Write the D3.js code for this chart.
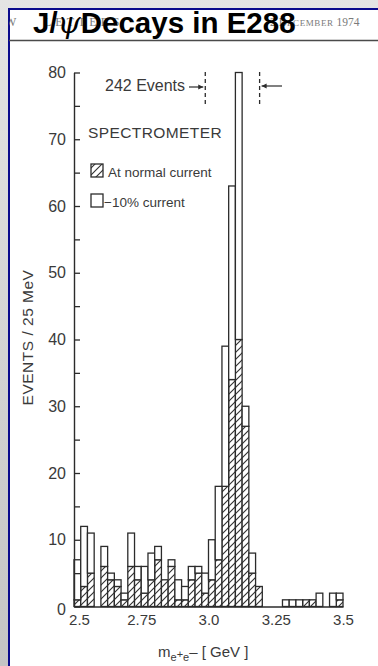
<!DOCTYPE html>
<html>
<head>
<meta charset="utf-8">
<script src="https://cdn.jsdelivr.net/npm/d3@7"></script>
<style>
  html, body { margin: 0; padding: 0; background: #fff; }
  svg { display: block; }
</style>
</head>
<body>
<svg id="chart" width="378" height="666"></svg>
<script>
// Lower edge of each 25 MeV mass bin (GeV)
const binStarts = [
  2.500, 2.525, 2.550, 2.575, 2.600, 2.625, 2.650, 2.675, 2.700, 2.725,
  2.750, 2.775, 2.800, 2.825, 2.850, 2.875, 2.900, 2.925, 2.950, 2.975,
  3.000, 3.025, 3.050, 3.075, 3.100, 3.125, 3.150, 3.175, 3.200, 3.225,
  3.250, 3.275, 3.300, 3.325, 3.350, 3.375, 3.400, 3.425, 3.450, 3.475
];
const binWidth = 0.025;

// Events per bin at normal spectrometer current (hatched)
const normalCurrent = [
  1, 3, 5, 0, 6, 4, 3, 1, 6, 4,
  2, 4, 7, 4, 6, 1, 1, 4, 5, 2,
  4, 7, 18, 34, 40, 27, 5, 3, 0, 0,
  0, 0, 0, 0, 1, 1, 0, 0, 0, 1
];
// Events per bin at -10% spectrometer current (open, stacked on top)
const reducedCurrent = [
  6, 9, 6, 0, 3, 1, 1, 1, 5, 2,
  4, 4, 2, 0, 1, 3, 2, 2, 1, 3,
  6, 11, 21, 29, 40, 3, 3, 0, 0, 0,
  0, 1, 1, 1, 0, 0, 2, 0, 2, 1
];

const yTicks = [0, 5, 10, 15, 20, 25, 30, 35, 40, 45, 50, 55, 60, 65, 70, 75, 80];
const xTickValues = [2.5, 2.75, 3.0, 3.25, 3.5];
const xTickLabels = ["2.5", "2.75", "3.0", "3.25", "3.5"];

// Mass window containing the 242 events
const windowEdges = [2.988, 3.19];

const W = 378, H = 666;
const ink = "#2b2b2b";
const textInk = "#3a3a3a";
const svg = d3.select("#chart");

// ---- page frame ----
const defs = svg.append("defs");
const bg = defs.append("linearGradient").attr("id", "bgGrad")
  .attr("x1", 0).attr("y1", 0).attr("x2", 0).attr("y2", 1);
bg.append("stop").attr("offset", "0%").attr("stop-color", "#e4e4e4");
bg.append("stop").attr("offset", "100%").attr("stop-color", "#c4c4c4");
svg.append("rect").attr("width", W).attr("height", H).attr("fill", "url(#bgGrad)");

const panelX = 9, panelY = 9;
defs.append("clipPath").attr("id", "panelClip")
  .append("rect").attr("x", panelX).attr("y", panelY).attr("width", W - panelX).attr("height", H - panelY);
svg.append("rect").attr("x", panelX).attr("y", panelY)
  .attr("width", W - panelX + 5).attr("height", H - panelY + 5)
  .attr("fill", "#fff").attr("stroke", "#0a0a8c").attr("stroke-width", 2);

const page = svg.append("g").attr("clip-path", "url(#panelClip)");

// journal running head
const head = page.append("g")
  .attr("font-family", "'Liberation Serif', 'DejaVu Serif', serif")
  .attr("fill", "#7a7a7a");
head.append("text").attr("x", 5).attr("y", 26).attr("font-size", 12).text("W");
head.append("text").attr("x", 44).attr("y", 26).attr("font-size", 12)
  .attr("letter-spacing", 4).text("LETTERS");
const dateText = head.append("text").attr("x", 270).attr("y", 26).attr("font-size", 11.5);
dateText.append("tspan").text("2 D");
dateText.append("tspan").attr("font-size", 9).attr("letter-spacing", 0.6).text("ECEMBER");
dateText.append("tspan").text(" 1974");

page.append("line").attr("x1", panelX).attr("x2", W).attr("y1", 40.5).attr("y2", 40.5)
  .attr("stroke", "#4a4a4a").attr("stroke-width", 1.6);

// title
const title = page.append("text").attr("x", 33).attr("y", 33)
  .attr("font-family", "'Liberation Sans', Arial, sans-serif")
  .attr("font-weight", "bold").attr("font-size", 29.5).attr("fill", "#000");
title.append("tspan").text("J/");
title.append("tspan").attr("font-family", "'DejaVu Serif', serif").attr("font-style", "italic")
  .attr("font-weight", "normal").text("\u03C8");
title.append("tspan").text("Decays in E288");

// ---- scales ----
const x = d3.scaleLinear().domain([2.5, 3.5]).range([74, 343]);
const y = d3.scaleLinear().domain([0, 80]).range([606.5, 72.5]);

// hatch pattern for the normal-current histogram
const hatch = defs.append("pattern").attr("id", "hatch")
  .attr("patternUnits", "userSpaceOnUse").attr("width", 7).attr("height", 7);
hatch.append("rect").attr("width", 7).attr("height", 7).attr("fill", "#fff");
hatch.append("path").attr("d", "M-1,1 L1,-1 M0,7 L7,0 M6,8 L8,6")
  .attr("stroke", "#333").attr("stroke-width", 1.15);

const plot = page.append("g");

// ---- histogram ----
const rows = binStarts.map((b, i) => ({ bin: b, normal: normalCurrent[i], reduced: reducedCurrent[i] }));
const stacked = d3.stack().keys(["normal", "reduced"])(rows);
const fills = { normal: "url(#hatch)", reduced: "#fff" };

stacked.forEach(layer => {
  plot.append("g")
    .selectAll("rect")
    .data(layer.filter(d => d[1] > d[0]))
    .join("rect")
    .attr("x", d => x(d.data.bin))
    .attr("width", d => x(d.data.bin + binWidth) - x(d.data.bin))
    .attr("y", d => y(d[1]))
    .attr("height", d => y(d[0]) - y(d[1]))
    .attr("fill", fills[layer.key])
    .attr("stroke", ink)
    .attr("stroke-width", 1.3);
});

// ---- axes ----
const yAxis = d3.axisLeft(y)
  .tickValues(yTicks)
  .tickSizeInner(-6)
  .tickSizeOuter(0)
  .tickPadding(8)
  .tickFormat(d => d % 10 === 0 ? String(d) : "");
const yAxisG = plot.append("g").attr("transform", `translate(${x(2.5)},0)`).call(yAxis);

const xAxis = d3.axisBottom(x)
  .tickValues(xTickValues)
  .tickSize(0)
  .tickPadding(8)
  .tickFormat((d, i) => xTickLabels[i]);
const xAxisG = plot.append("g").attr("transform", `translate(0,${y(0)})`).call(xAxis);

[yAxisG, xAxisG].forEach(g => {
  g.select(".domain").attr("stroke", ink).attr("stroke-width", 1.4);
  g.selectAll(".tick line").attr("stroke", ink).attr("stroke-width", 1.3);
  g.selectAll("text")
    .attr("font-family", "'Liberation Sans', Arial, sans-serif")
    .attr("fill", textInk);
});
yAxisG.selectAll("text").attr("font-size", 16);
yAxisG.selectAll(".tick").filter(d => d === 0).select("text").attr("dy", "0.5em");
xAxisG.selectAll("text").attr("font-size", 15);
xAxisG.selectAll(".tick").filter(d => d === 2.5).select("text").attr("dx", 5);

// axis titles
plot.append("text")
  .attr("transform", `translate(33,${(265 + 410) / 2}) rotate(-90)`)
  .attr("text-anchor", "middle")
  .attr("font-family", "'Liberation Sans', Arial, sans-serif")
  .attr("font-size", 15.5).attr("letter-spacing", 0.5)
  .attr("fill", textInk)
  .text("EVENTS / 25 MeV");

const xTitle = plot.append("text")
  .attr("x", 158).attr("y", 657)
  .attr("font-family", "'Liberation Sans', Arial, sans-serif")
  .attr("font-size", 15).attr("fill", textInk);
xTitle.append("tspan").text("m");
xTitle.append("tspan").attr("font-size", 11).attr("dy", 4).text("e");
xTitle.append("tspan").attr("font-size", 11).attr("dy", -3).text("+");
xTitle.append("tspan").attr("font-size", 11).attr("dy", 3).text("e");
xTitle.append("tspan").attr("dy", -4).text("\u2013 [ GeV ]");

// ---- annotations ----
const annot = plot.append("g")
  .attr("font-family", "'Liberation Sans', Arial, sans-serif")
  .attr("fill", textInk);

annot.append("text").attr("x", 105).attr("y", 91).attr("font-size", 16).text("242 Events");
windowEdges.forEach(e => {
  annot.append("line")
    .attr("x1", x(e)).attr("x2", x(e)).attr("y1", 72).attr("y2", 107)
    .attr("stroke", ink).attr("stroke-width", 1.3).attr("stroke-dasharray", "4,3");
});
// arrow into the lower edge
annot.append("line").attr("x1", 189).attr("x2", x(windowEdges[0]) - 2).attr("y1", 87).attr("y2", 87)
  .attr("stroke", ink).attr("stroke-width", 1.2);
annot.append("path")
  .attr("d", `M${x(windowEdges[0]) - 2},87 l-5,-2.5 v5 z`).attr("fill", ink);
// arrow into the upper edge
annot.append("line").attr("x1", 282).attr("x2", x(windowEdges[1]) + 2).attr("y1", 86).attr("y2", 86)
  .attr("stroke", ink).attr("stroke-width", 1.2);
annot.append("path")
  .attr("d", `M${x(windowEdges[1]) + 2},86 l5,-2.5 v5 z`).attr("fill", ink);

annot.append("text").attr("x", 88).attr("y", 138).attr("font-size", 15.5)
  .attr("letter-spacing", 0.4).text("SPECTROMETER");

// legend
const legend = annot.append("g");
legend.append("rect").attr("x", 91).attr("y", 164).attr("width", 12).attr("height", 13)
  .attr("fill", "url(#hatch)").attr("stroke", ink).attr("stroke-width", 1.3);
legend.append("text").attr("x", 108).attr("y", 177).attr("font-size", 13.5).text("At normal current");
legend.append("rect").attr("x", 91).attr("y", 194).attr("width", 12).attr("height", 13)
  .attr("fill", "#fff").attr("stroke", ink).attr("stroke-width", 1.3);
legend.append("text").attr("x", 104).attr("y", 207).attr("font-size", 13.5).text("\u221210% current");
</script>
</body>
</html>
